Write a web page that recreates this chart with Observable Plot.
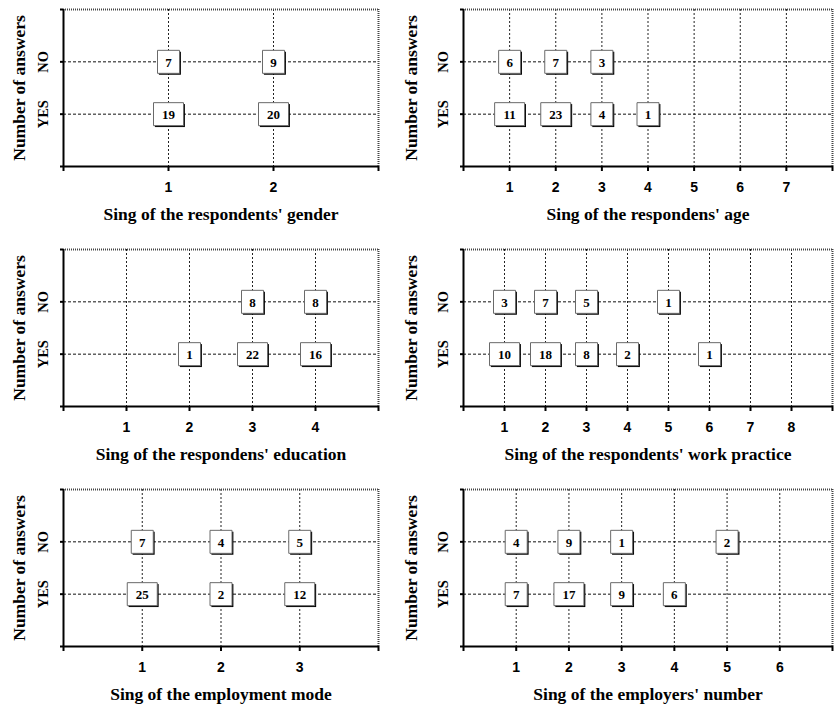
<!DOCTYPE html>
<html>
<head>
<meta charset="utf-8">
<script src="https://cdn.jsdelivr.net/npm/d3@7"></script>
<script src="https://cdn.jsdelivr.net/npm/@observablehq/plot@0.6"></script>
<style>
  html, body { margin: 0; padding: 0; background: #fff; }
  #grid { display: grid; grid-template-columns: 400px 440px; width: 840px; }
  #grid svg { display: block; background: #fff; }
</style>
</head>
<body>
<div id="grid"></div>
<script>
// ---- data ----
const answerLabels = ["YES", "NO"];          // y positions 1 and 2
const xTitles = [
  "Sing of the respondents' gender",
  "Sing of the respondens' age",
  "Sing of the respondens' education",
  "Sing of the respondents' work practice",
  "Sing of the employment mode",
  "Sing of the employers' number"
];
const xMaxes = [3, 8, 5, 9, 4, 7];             // axis extent of each panel
const genderYes = [19, 20];
const genderNo = [7, 9];
const ageYes = [11, 23, 4, 1];
const ageNo = [6, 7, 3];
const educationYes = [null, 1, 22, 16];
const educationNo = [null, null, 8, 8];
const practiceYes = [10, 18, 8, 2, null, 1];
const practiceNo = [3, 7, 5, null, 1];
const modeYes = [25, 2, 12];
const modeNo = [7, 4, 5];
const employersYes = [7, 17, 9, 6];
const employersNo = [4, 9, 1, null, 2];

const panelValues = [
  [genderYes, genderNo],
  [ageYes, ageNo],
  [educationYes, educationNo],
  [practiceYes, practiceNo],
  [modeYes, modeNo],
  [employersYes, employersNo]
];

// ---- box symbols ----
const boxSymbol = (w, h) => ({ draw(ctx) { ctx.rect(-w / 2, -h / 2, w, h); } });
const narrowBox = boxSymbol(22, 23);
const wideBox = boxSymbol(30, 23);

const serif = "Liberation Serif, Times New Roman, serif";
const sans = "Liberation Sans, Arial, sans-serif";

const grid = document.getElementById("grid");

panelValues.forEach(([yes, no], i) => {
  const xMax = xMaxes[i];
  const right = i % 2 === 1;
  const points = [];
  yes.forEach((v, k) => { if (v != null) points.push({ x: k + 1, y: 1, v }); });
  no.forEach((v, k) => { if (v != null) points.push({ x: k + 1, y: 2, v }); });
  const narrow = points.filter(d => d.v < 10);
  const wide = points.filter(d => d.v >= 10);
  const ansData = answerLabels.map((t, k) => ({ y: k + 1, t }));

  const boxMarks = (data, symbol) => [
    Plot.dot(data, { x: "x", y: "y", symbol, r: 10, fill: "#000", stroke: "none", dx: 1.4, dy: 1.4 }),
    Plot.dot(data, { x: "x", y: "y", symbol, r: 10, fill: "#fff", stroke: "#6a6a6a", strokeWidth: 1 })
  ];

  const chart = Plot.plot({
    width: right ? 440 : 400,
    height: 240,
    marginLeft: 63,
    marginRight: right ? 8 : 22,
    marginTop: 9,
    marginBottom: 74,
    style: { fontFamily: serif, background: "#fff", overflow: "visible" },
    x: { domain: [0, xMax] },
    y: { domain: [0, 3] },
    marks: [
      // grid
      Plot.ruleX(d3.range(1, xMax), { stroke: "#222", strokeWidth: 1, strokeDasharray: "2,2" }),
      Plot.ruleY([1, 2], { stroke: "#111", strokeWidth: 1, strokeDasharray: "3,2" }),
      // frame top/right (dotted)
      Plot.ruleY([3], { stroke: "#444", strokeWidth: 2, strokeDasharray: "1,1" }),
      Plot.ruleX([xMax], { stroke: "#444", strokeWidth: 2, strokeDasharray: "1,1" }),
      // axes
      Plot.axisX({
        ticks: d3.range(0, xMax + 1),
        tickFormat: d => (d > 0 && d < xMax ? String(d) : ""),
        tickSize: 5, tickPadding: 11, strokeWidth: 2,
        fontSize: 14, fontWeight: "bold", fontFamily: sans, fill: "#000",
        label: null
      }),
      Plot.axisY({
        ticks: [0, 1, 2, 3], tickFormat: () => "", tickSize: 3, strokeWidth: 2, label: null
      }),
      Plot.ruleX([0], { stroke: "#000", strokeWidth: 2 }),
      Plot.ruleY([0], { stroke: "#000", strokeWidth: 2 }),
      // boxes
      ...boxMarks(narrow, narrowBox),
      ...boxMarks(wide, wideBox),
      Plot.text(points, {
        x: "x", y: "y", text: d => String(d.v),
        fontSize: 13, fontWeight: "bold", fontFamily: serif, fill: "#000", dy: 0.5
      }),
      // YES / NO labels
      Plot.text(ansData, {
        y: "y", text: "t", frameAnchor: "left", textAnchor: "middle", lineAnchor: "middle",
        dx: -20, rotate: -90,
        fontSize: 14.5, fontWeight: "bold", fontFamily: serif, fill: "#000"
      }),
      // y title
      Plot.text(["Number of answers"], {
        frameAnchor: "left", textAnchor: "middle", lineAnchor: "middle",
        dx: right ? -52 : -44, rotate: -90,
        fontSize: 17.5, fontWeight: "bold", fontFamily: serif, fill: "#000"
      }),
      // x title
      Plot.text([xTitles[i]], {
        frameAnchor: "bottom", lineAnchor: "middle", dy: 48,
        fontSize: 17.5, fontWeight: "bold", fontFamily: serif, fill: "#000"
      })
    ]
  });
  grid.appendChild(chart);
});
</script>
</body>
</html>
